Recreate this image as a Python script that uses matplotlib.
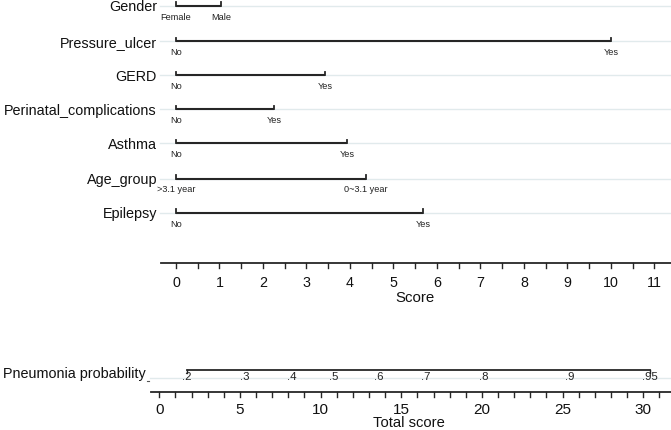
import matplotlib
matplotlib.use("Agg")
import matplotlib.pyplot as plt
import numpy as np

plt.rcParams['font.family'] = ['Liberation Sans', 'DejaVu Sans']

# ---- data ----
variables = ["Gender", "Pressure_ulcer", "GERD", "Perinatal_complications",
             "Asthma", "Age_group", "Epilepsy"]
low_labels = ["Female", "No", "No", "No", "No", ">3.1 year", "No"]
high_labels = ["Male", "Yes", "Yes", "Yes", "Yes", "0~3.1 year", "Yes"]
high_points = [1.03, 10.0, 3.43, 2.25, 3.94, 4.36, 5.68]

score_ticks = list(range(0, 12))
total_ticks = list(range(0, 31, 5))
prob_labels = [".2", ".3", ".4", ".5", ".6", ".7", ".8", ".9", ".95"]
prob_total = [1.72, 5.31, 8.21, 10.83, 13.63, 16.52, 20.09, 25.46, 30.42]

# ---- layout ----
W, H = 671, 430
fig = plt.figure(figsize=(W / 100, H / 100), dpi=100)
ax = fig.add_axes([0, 0, 1, 1])
px_per_pt = 43.48
x0 = 176.0
ax.set_xlim(-x0 / px_per_pt, (W - x0) / px_per_pt)
ax.set_ylim(H, 0)
ax.axis('off')

ax2 = fig.add_axes([0, 0, 1, 1])
px_per_tot = 16.13
t0 = 159.3
ax2.set_xlim(-t0 / px_per_tot, (W - t0) / px_per_tot)
ax2.set_ylim(H, 0)
ax2.axis('off')
ax2.patch.set_alpha(0)

def sx(px):
    return (px - x0) / px_per_pt

def tx(px):
    return (px - t0) / px_per_tot

line_col = '#262626'
grid_col = '#e1eaec'
row_y = [5.5, 41, 75.3, 109, 143.3, 178.5, 212.7]

for name, lo, hi, pts, y in zip(variables, low_labels, high_labels, high_points, row_y):
    ax.plot([sx(160), sx(W)], [y, y], color=grid_col, lw=1.0, zorder=1)
    ax.plot([0, pts], [y, y], color=line_col, lw=1.5, zorder=3, solid_capstyle='butt')
    ax.plot([0, 0], [y, y - 3.5], color=line_col, lw=1.3, zorder=3)
    ax.plot([pts, pts], [y, y - 3.5], color=line_col, lw=1.3, zorder=3)
    ax.text(sx(157), y + 5.6, name, ha='right', va='baseline', fontsize=10.4, color='#111111')
    ax.text(0, y + 14, lo, ha='center', va='baseline', fontsize=6.6, color='#222222')
    ax.text(pts, y + 14, hi, ha='center', va='baseline', fontsize=6.6, color='#222222')

# Score axis
ys = 263.3
ax.plot([sx(161), sx(W)], [ys, ys], color=line_col, lw=1.3)
for t in np.arange(0, 11.01, 0.5):
    ax.plot([t, t], [ys, ys + 5], color=line_col, lw=1.0)
for t in score_ticks:
    ax.text(t, 286.7, str(t), ha='center', va='baseline', fontsize=10.3, color='#111111')
ax.text(5.5, 301.7, "Score", ha='center', va='baseline', fontsize=10.8, color='#111111')

# Probability row
yp = 370
ax2.plot([tx(150), tx(W)], [yp + 8, yp + 8], color=grid_col, lw=1.0, zorder=1)
ax2.plot([prob_total[0], prob_total[-1]], [yp, yp], color=line_col, lw=1.3, zorder=3)
ax2.plot([prob_total[0]] * 2, [yp, yp + 3], color=line_col, lw=1.0)
ax2.plot([prob_total[-1]] * 2, [yp, yp + 3], color=line_col, lw=1.0)
for lab, t in zip(prob_labels, prob_total):
    ax2.text(t, 380, lab, ha='center', va='baseline', fontsize=8.2, color='#222222')
ax2.plot([tx(147), tx(149)], [yp + 11, yp + 11], color='#555555', lw=0.8)
ax.text(sx(146), 378.3, "Pneumonia probability", ha='right', va='baseline',
        fontsize=10.4, color='#111111')

# Total score axis
yt = 391.7
ax2.plot([tx(151), tx(W)], [yt, yt], color=line_col, lw=1.3)
for t in range(0, 32):
    ax2.plot([t, t], [yt, yt + 5], color=line_col, lw=1.0)
for t in total_ticks:
    ax2.text(t, 414.5, str(t), ha='center', va='baseline', fontsize=11, color='#111111')
ax2.text(15.5, 427, "Total score", ha='center', va='baseline', fontsize=10.6, color='#111111')

fig.savefig("out.png", dpi=100)
